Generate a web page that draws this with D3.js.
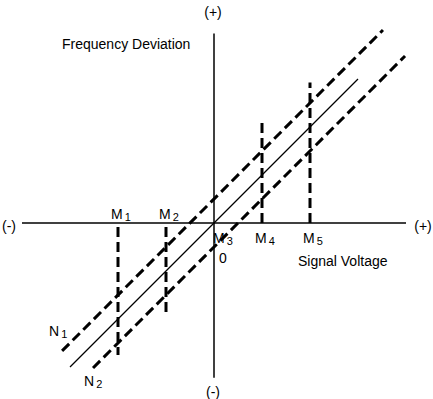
<!DOCTYPE html>
<html>
<head>
<meta charset="utf-8">
<script src="https://cdn.jsdelivr.net/npm/d3@7"></script>
<style>
  body { margin: 0; background: #fff; }
  text { font-family: "Liberation Sans", Arial, sans-serif; fill: #000; }
</style>
</head>
<body>
<svg id="chart" width="433" height="399"></svg>
<script>
// axis extents (units: one M step = 2)
const xExtent = [-8, 8]
const yExtent = [-6.45, 7.9]

// characteristic lines: centre line, upper limit N1, lower limit N2
const centreLine = [[-6, -6], [6, 6]]
const upperLine = [[-6.33, -5.33], [7.04, 8.04]]
const lowerLine = [[-5.04, -6.04], [7.96, 6.96]]

// vertical markers M1..M5 (x position, end value)
const markerNames = ['1', '2', '3', '4', '5']
const markerX = [-4, -2, 0, 2, 4]
const markerEnd = [-5.5, -3.8, null, 4.3, 5.85]

const svg = d3.select('#chart')

const x = d3.scaleLinear().domain([-8, 8]).range([22, 406])
const y = d3.scaleLinear().domain([0, 1]).range([223, 199])

const line = d3.line().x(d => x(d[0])).y(d => y(d[1]))

// axes
svg.append('line')
    .attr('x1', x(xExtent[0])).attr('x2', x(xExtent[1]))
    .attr('y1', y(0)).attr('y2', y(0))
    .attr('stroke', '#000').attr('stroke-width', 1.5)
svg.append('line')
    .attr('x1', x(0)).attr('x2', x(0))
    .attr('y1', y(yExtent[0])).attr('y2', y(yExtent[1]))
    .attr('stroke', '#000').attr('stroke-width', 1.5)

// centre line
svg.append('path')
    .attr('d', line(centreLine))
    .attr('fill', 'none')
    .attr('stroke', '#000')
    .attr('stroke-width', 1.3)

// dashed limit lines
;[upperLine, lowerLine].forEach(l => {
    svg.append('path')
        .attr('d', line(l))
        .attr('fill', 'none')
        .attr('stroke', '#000')
        .attr('stroke-width', 3)
        .attr('stroke-dasharray', '10,5')
})

// vertical marker lines
markerX.forEach((m, i) => {
    if (markerEnd[i] === null) return
    const start = markerEnd[i] < 0 ? -0.17 : 0
    svg.append('line')
        .attr('x1', x(m)).attr('x2', x(m))
        .attr('y1', y(start)).attr('y2', y(markerEnd[i]))
        .attr('stroke', '#000')
        .attr('stroke-width', 3)
        .attr('stroke-dasharray', '10,5')
})

// marker labels
function subLabel(px, py, main, sub) {
    const t = svg.append('text')
        .attr('x', px).attr('y', py)
        .attr('font-size', 14)
    t.append('tspan').text(main)
    t.append('tspan').attr('dx', 2).attr('dy', 2).attr('font-size', 11).text(sub)
}

markerX.forEach((m, i) => {
    const above = markerEnd[i] !== null && markerEnd[i] < 0
    const px = x(m) - 7
    const py = above ? 219 : 243
    subLabel(m === 0 ? px + 6 : px, py, 'M', markerNames[i])
})

subLabel(49, 336, 'N', '1')
subLabel(84, 386, 'N', '2')

// axis end labels
const endLabels = [
    { t: '(+)', x: x(0) - 1, y: 17 },
    { t: '(-)', x: x(0) - 1, y: 397 },
    { t: '(-)', x: 9, y: 231 },
    { t: '(+)', x: 423, y: 231 }
]
endLabels.forEach(d => {
    svg.append('text')
        .attr('x', d.x).attr('y', d.y)
        .attr('text-anchor', 'middle')
        .attr('font-size', 14)
        .text(d.t)
})

svg.append('text')
    .attr('x', 62).attr('y', 49)
    .attr('font-size', 14)
    .text('Frequency Deviation')

svg.append('text')
    .attr('x', 298).attr('y', 266)
    .attr('font-size', 14)
    .text('Signal Voltage')

svg.append('text')
    .attr('x', 219).attr('y', 263)
    .attr('font-size', 14)
    .text('0')
</script>
</body>
</html>
